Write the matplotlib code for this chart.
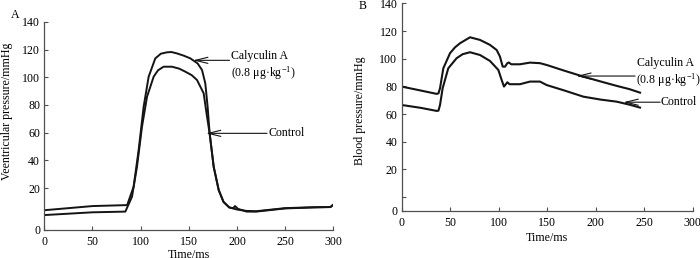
import matplotlib

matplotlib.use("Agg")
import matplotlib.pyplot as plt

plt.rcParams["font.family"] = ["Liberation Serif", "DejaVu Serif"]
plt.rcParams["mathtext.fontset"] = "custom"
plt.rcParams["mathtext.rm"] = "Liberation Serif"
plt.rcParams["mathtext.it"] = "Liberation Serif:italic"

# Panel A: ventricular pressure (mmHg) vs time (ms)
a_time_cal = [0, 25, 50, 86, 92.7, 97.9, 103.1, 108.3, 115.2, 121, 127.4, 132, 137.7,
              145, 151.6, 159.1, 163.7, 167.1, 169.5, 171.6, 175.8, 181, 186, 192,
              200, 210, 220, 250, 280, 297, 300]
a_cal = [4, 5.5, 7, 7.7, 21, 47.4, 78.7, 100.4, 113.6, 117, 118, 118.2, 117.2,
         115.5, 113.6, 110, 105.2, 95.6, 78.7, 59.5, 35.4, 18.6, 10, 6,
         4.5, 3.5, 3.3, 5.5, 6.2, 6.3, 8]
a_time_ctl = [0, 25, 50, 84.1, 91, 96.2, 101.4, 106.6, 113.5, 118, 123.8, 132.5,
              140, 146.4, 153, 158.5, 165.4, 168.9, 171.6, 175.8, 181, 186, 192,
              196, 198, 201, 210, 220, 250, 280, 297, 300]
a_ctl = [0.5, 1.5, 2.5, 3, 13.7, 35.4, 64.3, 85.9, 100.4, 105, 107.6, 107.6,
         106.2, 104, 101.5, 98, 88.4, 71.5, 59.5, 35.4, 18.6, 10, 6,
         5.5, 7, 5, 3, 3, 5.3, 6, 6.3, 8]

# Panel B: blood pressure (mmHg) vs time (ms)
b_time_cal = [0, 20, 36.2, 38, 39.6, 43, 49.9, 55, 60.2, 70.5, 80.8, 91.1, 98,
              101.4, 104.2, 106.6, 109, 110.5, 113, 122, 132.3, 142.6, 149.5,
              168, 187.3, 205, 221.6, 235, 245.7]
b_cal = [79.9, 77, 74.6, 75, 78.7, 93.1, 104, 108.2, 111.2, 115.5, 113.6, 110, 106.3,
         101.5, 94.3, 94.3, 96.8, 97.3, 96, 96, 97.2, 96.8, 95.5,
         91.3, 87.1, 83.6, 80.4, 78, 75.5]
b_time_ctl = [0, 20, 36.2, 38, 39.6, 42.3, 48.1, 56.7, 63, 70.5, 80.8, 91.1, 99.7,
              103.1, 105.5, 109, 111.2, 122, 132.3, 142.6, 149.5, 168, 187.3,
              205, 221.6, 235, 245.7]
b_ctl = [66.6, 64.5, 62.3, 62.5, 66.6, 78.7, 93.1, 100.4, 103.3, 104.7, 102.7, 98.4, 91.9,
         84.7, 79.9, 83, 81.6, 81.6, 83.5, 83.5, 81, 77, 72.6,
         70.5, 69, 66.8, 64.7]

x_ticks = [0, 50, 100, 150, 200, 250, 300]
a_yticks = [-10, 20, 40, 60, 80, 100, 120, 140]
a_ylabels = ["0", "20", "40", "60", "80", "100", "120", "140"]
b_yticks = [-10, 0, 20, 40, 60, 80, 100, 120, 140]
b_ylabels = ["0", "", "20", "40", "60", "80", "100", "120", "140"]

FS = 8.6
LINE = "#141414"
SPINE = "#505050"

fig = plt.figure(figsize=(7.0, 2.58), dpi=100)
ax_a = fig.add_axes([0.0633, 0.110, 0.4129, 0.8054])
ax_b = fig.add_axes([0.5737, 0.1822, 0.4159, 0.8047])


def style(ax, yticks, ylabels):
    ax.set_xlim(0, 300)
    ax.set_ylim(-10, 140)
    ax.set_xticks(x_ticks)
    ax.set_yticks(yticks)
    ax.set_yticklabels(ylabels)
    for s in ("top", "right"):
        ax.spines[s].set_visible(False)
    for s in ("left", "bottom"):
        ax.spines[s].set_color(SPINE)
        ax.spines[s].set_linewidth(0.9)
    ax.tick_params(direction="in", length=3, width=0.8, color=SPINE,
                   labelsize=FS)
    ax.tick_params(axis="x", pad=4.5)
    ax.tick_params(axis="y", pad=3)


style(ax_a, a_yticks, a_ylabels)
style(ax_b, b_yticks, b_ylabels)

ax_a.plot(a_time_cal, a_cal, color=LINE, lw=1.4)
ax_a.plot(a_time_ctl, a_ctl, color=LINE, lw=1.4)
ax_b.plot(b_time_cal, b_cal, color=LINE, lw=1.5)
ax_b.plot(b_time_ctl, b_ctl, color=LINE, lw=1.5)

ax_a.set_xlabel("Time/ms", fontsize=FS)
ax_a.xaxis.set_label_coords(0.5, -0.095)
ax_a.set_ylabel("Veentricular pressure/mmHg", fontsize=FS)
ax_a.yaxis.set_label_coords(-0.108, 0.571)
ax_b.set_xlabel("Time/ms", fontsize=FS)
ax_b.xaxis.set_label_coords(0.5, -0.1)
ax_b.set_ylabel("Blood pressure/mmHg", fontsize=FS)
ax_b.yaxis.set_label_coords(-0.122, 0.482)

arrow = dict(arrowstyle="->,head_length=0.9,head_width=0.22", lw=0.8, color=LINE,
             shrinkA=0, shrinkB=0)
AFS = 8.6
UNIT = r"(0.8 μg·kg$^{-1}$)"

ax_a.annotate("", xy=(154.4, 112.2), xytext=(192.2, 112.2), arrowprops=arrow)
ax_a.text(193.8, 115.3, "Calyculin A", fontsize=AFS, va="center", ha="left")
ax_a.text(193.8, 103.0, UNIT, fontsize=AFS, va="center", ha="left")
ax_a.annotate("", xy=(167.8, 59.5), xytext=(231.2, 59.5), arrowprops=arrow)
ax_a.text(232.2, 59.5, "Control", fontsize=AFS, va="center", ha="left")

ax_b.annotate("", xy=(180.0, 87.5), xytext=(240.6, 87.5), arrowprops=arrow)
ax_b.text(243.0, 97.0, "Calyculin A", fontsize=AFS, va="center", ha="left")
ax_b.text(242.0, 84.7, UNIT, fontsize=AFS, va="center", ha="left")
ax_b.annotate("", xy=(228.6, 68.6), xytext=(266.4, 68.6), arrowprops=arrow)
ax_b.text(267.0, 68.6, "Control", fontsize=AFS, va="center", ha="left")

fig.text(0.0214, 0.942, "A", fontsize=FS, ha="center", va="center")
fig.text(0.5186, 0.977, "B", fontsize=FS, ha="center", va="center")

fig.savefig("out.png", dpi=100)
